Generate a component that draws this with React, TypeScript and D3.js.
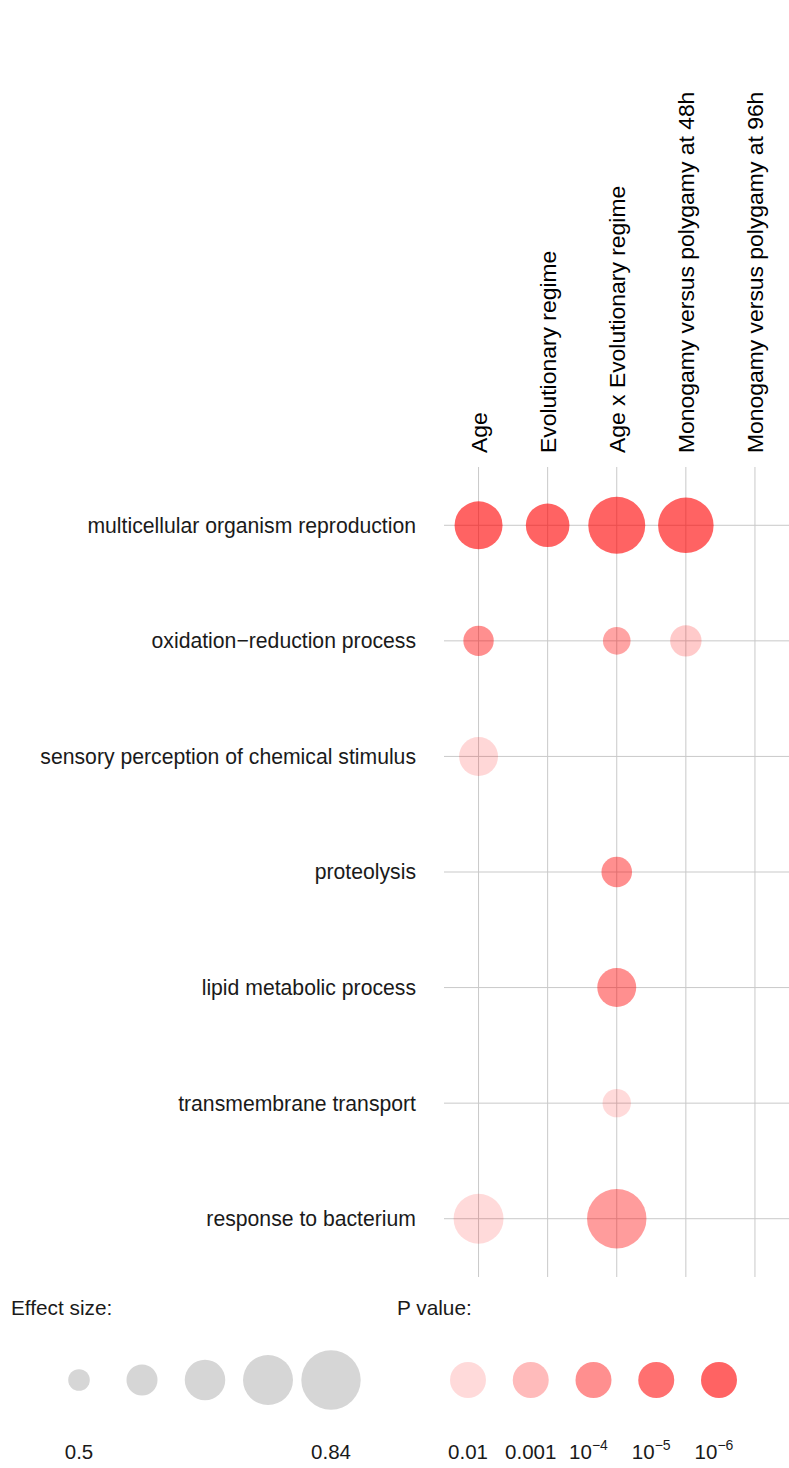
import React from "react";
import * as d3 from "d3";

// GO terms (rows) and model terms (columns)
const terms = [
  "multicellular organism reproduction",
  "oxidation\u2212reduction process",
  "sensory perception of chemical stimulus",
  "proteolysis",
  "lipid metabolic process",
  "transmembrane transport",
  "response to bacterium",
];

const contrasts = [
  "Age",
  "Evolutionary regime",
  "Age x Evolutionary regime",
  "Monogamy versus polygamy at 48h",
  "Monogamy versus polygamy at 96h",
];

// Enrichment results: one entry per significant term/contrast pair
const cellTerm = [0, 0, 0, 0, 1, 1, 1, 2, 3, 4, 5, 6, 6];
const cellContrast = [0, 1, 2, 3, 0, 2, 3, 0, 2, 2, 2, 0, 2];
const cellEffect = [0.737, 0.698, 0.818, 0.805, 0.579, 0.554, 0.588, 0.656, 0.581, 0.656, 0.561, 0.755, 0.84];
const cellP = [1e-6, 1e-6, 1e-6, 1e-6, 1e-4, 3e-4, 3e-3, 8e-3, 1e-4, 1e-4, 1e-2, 1e-2, 2e-4];

// Legend keys
const effectKeys = [0.5, 0.585, 0.67, 0.755, 0.84];
const effectKeyLabels = ["0.5", "", "", "", "0.84"];
const pKeys = [1e-2, 1e-3, 1e-4, 1e-5, 1e-6];
const pKeyBase = ["0.01", "0.001", "10", "10", "10"];
const pKeySup = ["", "", "\u22124", "\u22125", "\u22126"];

const W = 789;
const H = 1468;
const FONT = "'Liberation Sans', Arial, Helvetica, sans-serif";

export default function App() {
  const x = d3.scalePoint<string>().domain(contrasts).range([444, 789.5]).padding(0.5);
  const y = d3.scalePoint<string>().domain(terms).range([467.5, 1276.5]).padding(0.5);
  const r = d3.scaleLinear().domain([0.5, 0.84]).range([10.8, 29.7]);
  const alpha = d3
    .scaleLinear<number>()
    .domain([2, 3, 4, 5, 6])
    .range([0.145, 0.265, 0.44, 0.56, 0.61])
    .clamp(true);
  const a = (p: number) => alpha(-Math.log10(p));

  const effX = d3.scalePoint<number>().domain(effectKeys).range([79, 331]);
  const pX = d3.scalePoint<number>().domain(pKeys).range([468, 719]);

  const gridColor = "#c9c9c9";

  return (
    <svg
      width={W}
      height={H}
      style={{ position: "absolute", left: 0, top: 0, background: "#fff" }}
      fontFamily={FONT}
    >
      <rect width={W} height={H} fill="#fff" />
      {/* grid */}
      <g stroke={gridColor} strokeWidth={1}>
        {contrasts.map((c) => (
          <line key={c} x1={x(c)} x2={x(c)} y1={467} y2={1277} />
        ))}
        {terms.map((t) => (
          <line key={t} x1={444} x2={W} y1={y(t)} y2={y(t)} />
        ))}
      </g>

      {/* column labels */}
      {contrasts.map((c) => (
        <text
          key={c}
          transform={`translate(${x(c)},453) rotate(-90)`}
          dy="0.35em"
          fontSize={22.9}
          fill="#000"
        >
          {c}
        </text>
      ))}

      {/* row labels */}
      {terms.map((t) => (
        <text
          key={t}
          x={416}
          y={y(t)}
          dy="0.35em"
          textAnchor="end"
          fontSize={21.2}
          fill="#1a1a1a"
        >
          {t}
        </text>
      ))}

      {/* bubbles */}
      {cellTerm.map((ti, i) => (
        <circle
          key={i}
          cx={x(contrasts[cellContrast[i]])}
          cy={y(terms[ti])}
          r={r(cellEffect[i])}
          fill="#ff0000"
          fillOpacity={a(cellP[i])}
        />
      ))}

      {/* effect size legend */}
      <text x={11} y={1315} fontSize={20.8} fill="#1a1a1a">
        Effect size:
      </text>
      {effectKeys.map((e, i) => (
        <g key={e}>
          <circle cx={effX(e)} cy={1380} r={r(e)} fill="#d6d6d6" />
          {effectKeyLabels[i] && (
            <text x={effX(e)} y={1459} textAnchor="middle" fontSize={20.5} fill="#1a1a1a">
              {effectKeyLabels[i]}
            </text>
          )}
        </g>
      ))}

      {/* p value legend */}
      <text x={397} y={1315} fontSize={20.8} fill="#1a1a1a">
        P value:
      </text>
      {pKeys.map((p, i) => (
        <g key={p}>
          <circle cx={pX(p)} cy={1380} r={18} fill="#ff0000" fillOpacity={a(p)} />
          <text
            x={pX(p)! + (pKeySup[i] ? -5 : 0)}
            y={1459}
            textAnchor="middle"
            fontSize={20.5}
            fill="#1a1a1a"
          >
            {pKeyBase[i]}
            {pKeySup[i] && (
              <tspan dy={-9} fontSize={14}>
                {pKeySup[i]}
              </tspan>
            )}
          </text>
        </g>
      ))}
    </svg>
  );
}
